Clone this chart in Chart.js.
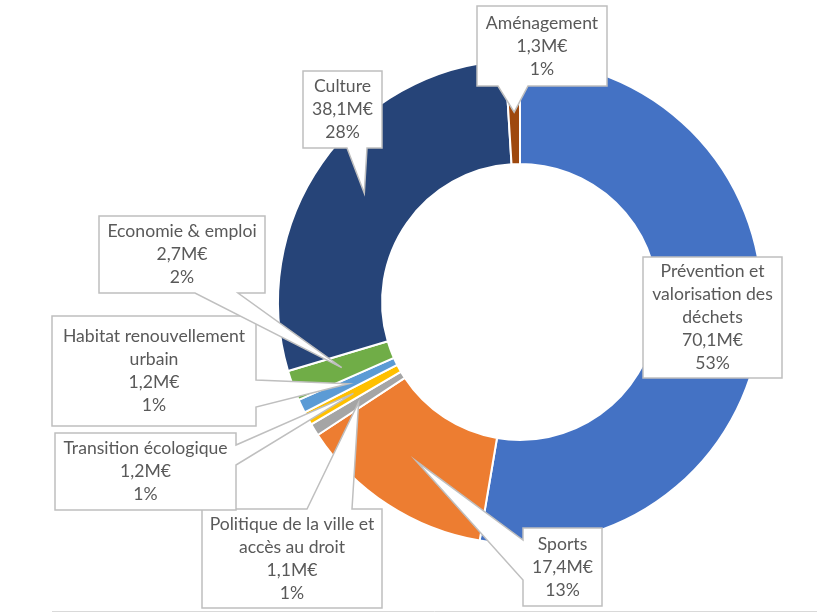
<!DOCTYPE html>
<html>
<head>
<meta charset="utf-8">
<script src="https://cdn.jsdelivr.net/npm/chart.js@4/dist/chart.umd.min.js"></script>
<style>
  body { margin: 0; background: #fff; }
  canvas { display: block; }
</style>
</head>
<body>
<canvas id="donut" width="817" height="612"></canvas>
<script>
// data (millions of euros), clockwise from the top
var categories = [
	['Prévention et', 'valorisation des', 'déchets'],
	['Sports'],
	['Politique de la ville et', 'accès au droit'],
	['Transition écologique'],
	['Habitat renouvellement', 'urbain'],
	['Economie & emploi'],
	['Culture'],
	['Aménagement']
];
var amounts = [70.1, 17.4, 1.1, 1.2, 1.2, 2.7, 38.1, 1.3];
var percents = [53, 13, 1, 1, 1, 2, 28, 1];
var colors = ['#4472C4', '#ED7D31', '#A5A5A5', '#FFC000', '#5B9BD5', '#70AD47', '#264478', '#9E480E'];

// callout boxes : [left, top, right, bottom], side of the pointer and its base
var boxes = [
	{ r: [643, 257, 782, 378], side: null },
	{ r: [523, 528, 602, 606], side: 'left', a: 540, b: 580 },
	{ r: [202, 509, 382, 608], side: 'top', a: 307, b: 352 },
	{ r: [55, 433, 236, 510], side: 'right', a: 445, b: 465 },
	{ r: [52, 316, 256, 426], side: 'right', a: 380, b: 407 },
	{ r: [99, 216, 265, 293], side: 'bottom', a: 195, b: 238 },
	{ r: [303, 71, 382, 148], side: 'bottom', a: 347, b: 367 },
	{ r: [477, 6, 607, 86], side: 'bottom', a: 498, b: 528 }
];

function money(v) {
	return v.toFixed(1).replace('.', ',') + 'M€';
}

var callouts = {
	id: 'callouts',
	afterDraw: function(chart) {
		var ctx = chart.ctx;
		var arcs = chart.getDatasetMeta(0).data;
		ctx.save();
		// faint frame line at the bottom
		ctx.strokeStyle = '#D9D9D9';
		ctx.lineWidth = 1;
		ctx.beginPath();
		ctx.moveTo(52, 611.5);
		ctx.lineTo(817, 611.5);
		ctx.stroke();

		for (var i = 0; i < boxes.length; i++) {
			var bx = boxes[i];
			var l = bx.r[0], t = bx.r[1], rr = bx.r[2], b = bx.r[3];
			var tip = arcs[i].tooltipPosition();
			ctx.beginPath();
			ctx.moveTo(l, t);
			if (bx.side == 'top') {
				ctx.lineTo(bx.a, t); ctx.lineTo(tip.x, tip.y); ctx.lineTo(bx.b, t);
			}
			ctx.lineTo(rr, t);
			if (bx.side == 'right') {
				ctx.lineTo(rr, bx.a); ctx.lineTo(tip.x, tip.y); ctx.lineTo(rr, bx.b);
			}
			ctx.lineTo(rr, b);
			if (bx.side == 'bottom') {
				ctx.lineTo(bx.b, b); ctx.lineTo(tip.x, tip.y); ctx.lineTo(bx.a, b);
			}
			ctx.lineTo(l, b);
			if (bx.side == 'left') {
				ctx.lineTo(l, bx.b); ctx.lineTo(tip.x, tip.y); ctx.lineTo(l, bx.a);
			}
			ctx.closePath();
			ctx.fillStyle = '#FFFFFF';
			ctx.fill();
			ctx.strokeStyle = '#BFBFBF';
			ctx.lineWidth = 1.5;
			ctx.lineJoin = 'miter';
			ctx.stroke();

			var lines = categories[i].concat([money(amounts[i]), percents[i] + '%']);
			var lh = 23;
			var cx = (l + rr) / 2;
			var y0 = (t + b) / 2 - (lines.length - 1) * lh / 2;
			ctx.fillStyle = '#595959';
			ctx.font = '17.6px Lato';
			ctx.textAlign = 'center';
			ctx.textBaseline = 'middle';
			for (var k = 0; k < lines.length; k++) {
				ctx.fillText(lines[k], cx, y0 + k * lh);
			}
		}
		ctx.restore();
	}
};

var config = {
	type: 'doughnut',
	data: {
		labels: categories,
		datasets: [{
			data: amounts,
			backgroundColor: colors,
			borderColor: '#FFFFFF',
			borderWidth: 2
		}]
	},
	options: {
		responsive: false,
		animation: false,
		cutout: '57%',
		layout: {
			padding: { left: 277, right: 54, top: 59, bottom: 67 }
		},
		plugins: {
			legend: { display: false },
			tooltip: { enabled: false }
		}
	},
	plugins: [callouts]
};

var ctx = document.getElementById('donut').getContext('2d');
window.myDonut = new Chart(ctx, config);
</script>
</body>
</html>
